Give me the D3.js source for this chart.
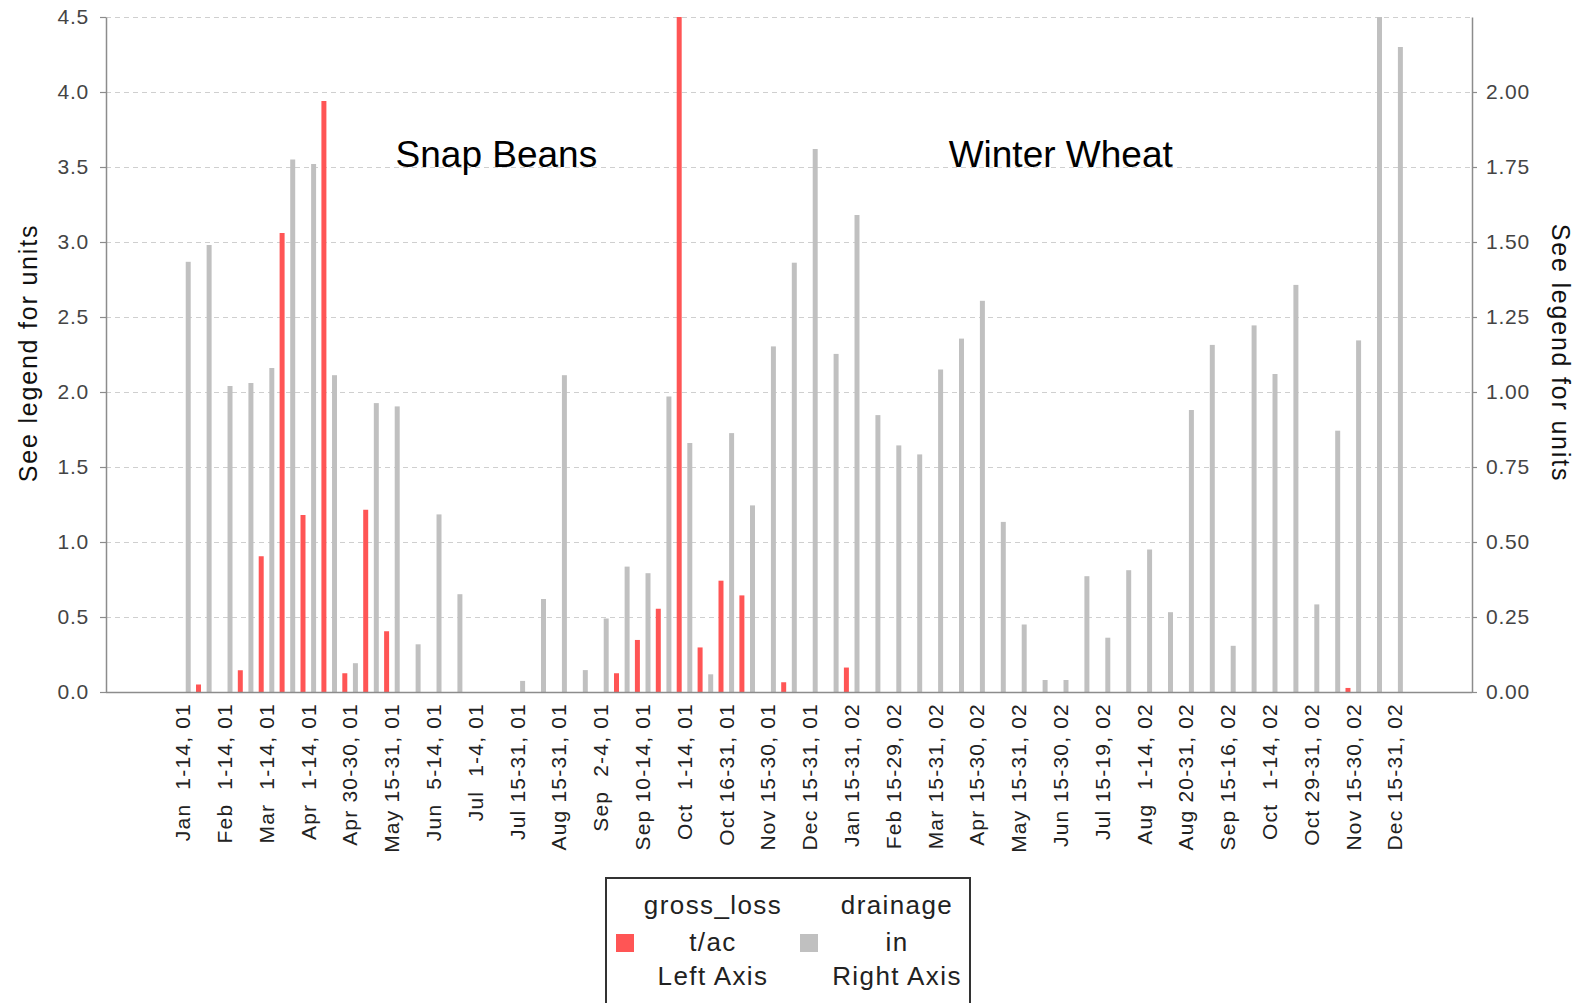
<!DOCTYPE html>
<html>
<head>
<meta charset="utf-8">
<script src="https://cdn.jsdelivr.net/npm/d3@7"></script>
<style>
  body { margin: 0; background: #fff; }
  text { font-family: "Liberation Sans", Arial, sans-serif; }
</style>
</head>
<body>
<div id="chart"></div>
<script>
// Half-month periods (labels padded like the source, "Jan  1-14, 01")
var periods = [
  "Jan  1-14, 01", "Jan 15-31, 01", "Feb  1-14, 01", "Feb 15-28, 01", "Mar  1-14, 01",
  "Mar 15-31, 01", "Apr  1-14, 01", "Apr 15-29, 01", "Apr 30-30, 01", "May  1-14, 01",
  "May 15-31, 01", "Jun  1-4, 01", "Jun  5-14, 01", "Jun 15-30, 01", "Jul  1-4, 01",
  "Jul  5-14, 01", "Jul 15-31, 01", "Aug  1-14, 01", "Aug 15-31, 01", "Sep  1-1, 01",
  "Sep  2-4, 01", "Sep  5-9, 01", "Sep 10-14, 01", "Sep 15-30, 01", "Oct  1-14, 01",
  "Oct 15-15, 01", "Oct 16-31, 01", "Nov  1-14, 01", "Nov 15-30, 01", "Dec  1-14, 01",
  "Dec 15-31, 01", "Jan  1-14, 02", "Jan 15-31, 02", "Feb  1-14, 02", "Feb 15-29, 02",
  "Mar  1-14, 02", "Mar 15-31, 02", "Apr  1-14, 02", "Apr 15-30, 02", "May  1-14, 02",
  "May 15-31, 02", "Jun  1-14, 02", "Jun 15-30, 02", "Jul  1-14, 02", "Jul 15-19, 02",
  "Jul 20-31, 02", "Aug  1-14, 02", "Aug 15-19, 02", "Aug 20-31, 02", "Sep  1-14, 02",
  "Sep 15-16, 02", "Sep 17-30, 02", "Oct  1-14, 02", "Oct 15-28, 02", "Oct 29-31, 02",
  "Nov  1-14, 02", "Nov 15-30, 02", "Dec  1-14, 02", "Dec 15-31, 02"
];

// gross_loss, t/ac (left axis)
var grossLoss = [
  0, 0.05, 0, 0.145, 0.905, 3.06, 1.18, 3.94, 0.125, 1.215,
  0.405, 0, 0, 0, 0, 0, 0, 0, 0, 0,
  0, 0.125, 0.347, 0.555, 4.5, 0.297, 0.742, 0.644, 0, 0.065,
  0, 0, 0.163, 0, 0, 0, 0, 0, 0, 0,
  0, 0, 0, 0, 0, 0, 0, 0, 0, 0,
  0, 0, 0, 0, 0, 0, 0.027, 0, 0
];

// drainage, in (right axis)
var drainage = [
  1.434, 1.49, 1.02, 1.03, 1.08, 1.775, 1.76, 1.056, 0.096, 0.963,
  0.952, 0.159, 0.592, 0.326, 0, 0, 0.037, 0.31, 1.056, 0.073,
  0.245, 0.418, 0.396, 0.985, 0.83, 0.059, 0.863, 0.622, 1.152, 1.431,
  1.81, 1.127, 1.59, 0.923, 0.822, 0.792, 1.075, 1.178, 1.304, 0.567,
  0.225, 0.04, 0.04, 0.386, 0.181, 0.406, 0.475, 0.266, 0.94, 1.157,
  0.154, 1.222, 1.06, 1.357, 0.292, 0.871, 1.172, 2.25, 2.15
];

var leftTicks = [0, 0.5, 1.0, 1.5, 2.0, 2.5, 3.0, 3.5, 4.0, 4.5];
var rightTicks = [0, 0.25, 0.5, 0.75, 1.0, 1.25, 1.5, 1.75, 2.0];

// crop annotations
var cropNames = ["Snap Beans", "Winter Wheat"];
var cropPeriods = ["Jul  5-14, 01", "Jun 15-30, 02"];
var cropLevels = [3.5, 3.5];

// legend
var seriesNames = ["gross_loss", "drainage"];
var seriesUnits = ["t/ac", "in"];
var seriesAxes = ["Left Axis", "Right Axis"];
var seriesColors = ["#ff5555", "#c0c0c0"];

var svgWidth = 1581;
var svgHeight = 1003;

var plot = { left: 106, right: 1472, top: 17, bottom: 692 };

var svg = d3.select("#chart")
  .append("svg")
  .attr("width", svgWidth)
  .attr("height", svgHeight)
  .style("background", "#fff");

// Scales
var xScale = d3.scaleBand()
  .domain(periods)
  .range([plot.left, plot.right])
  .paddingInner(0)
  .paddingOuter(3.18);

var xSub = d3.scaleBand()
  .domain(seriesNames)
  .range([0, xScale.bandwidth()])
  .paddingInner(0.53)
  .paddingOuter(0.25);

var yLeft = d3.scaleLinear().domain([0, 4.5]).range([plot.bottom, plot.top]);
var yRight = d3.scaleLinear().domain([0, 2.25]).range([plot.bottom, plot.top]);

// Gridlines
svg.append("g")
  .selectAll("line")
  .data(leftTicks.filter(d => d > 0))
  .enter()
  .append("line")
  .attr("x1", plot.left)
  .attr("x2", plot.right)
  .attr("y1", d => yLeft(d) + 0.5)
  .attr("y2", d => yLeft(d) + 0.5)
  .attr("stroke", "#cfcfcf")
  .attr("stroke-width", 1)
  .attr("stroke-dasharray", "5,4");

// Bars
var rows = periods.map(function(p, i) {
  return { period: p, loss: grossLoss[i], drain: drainage[i] };
});

svg.append("g")
  .selectAll("rect")
  .data(rows)
  .enter()
  .append("rect")
  .attr("x", d => xScale(d.period) + xSub("gross_loss"))
  .attr("y", d => yLeft(d.loss))
  .attr("width", xSub.bandwidth())
  .attr("height", d => plot.bottom - yLeft(d.loss))
  .attr("fill", seriesColors[0]);

svg.append("g")
  .selectAll("rect")
  .data(rows)
  .enter()
  .append("rect")
  .attr("x", d => xScale(d.period) + xSub("drainage"))
  .attr("y", d => yRight(d.drain))
  .attr("width", xSub.bandwidth())
  .attr("height", d => plot.bottom - yRight(d.drain))
  .attr("fill", seriesColors[1]);

// Axes
var leftAxis = d3.axisLeft(yLeft)
  .tickValues(leftTicks)
  .tickFormat(d3.format(".1f"))
  .tickSizeInner(6)
  .tickSizeOuter(0)
  .tickPadding(11);

var rightAxis = d3.axisRight(yRight)
  .tickValues(rightTicks)
  .tickFormat(d3.format(".2f"))
  .tickSizeInner(5)
  .tickSizeOuter(0)
  .tickPadding(9);

var bottomAxis = d3.axisBottom(xScale)
  .tickValues(periods.filter((d, i) => i % 2 === 0))
  .tickSize(0)
  .tickSizeOuter(0);

var gl = svg.append("g")
  .attr("transform", `translate(${plot.left}, 0)`)
  .call(leftAxis);

var gr = svg.append("g")
  .attr("transform", `translate(${plot.right}, 0)`)
  .call(rightAxis);

var gb = svg.append("g")
  .attr("transform", `translate(0, ${plot.bottom})`)
  .call(bottomAxis);

[gl, gr, gb].forEach(function(g) {
  g.select(".domain").attr("stroke", "#8c8c8c").attr("stroke-width", 1.5);
  g.selectAll(".tick line").attr("stroke", "#8c8c8c").attr("stroke-width", 1.2);
});

gl.selectAll(".tick text")
  .attr("font-size", "21px")
  .attr("letter-spacing", "0.8px")
  .attr("fill", "#444");

gr.selectAll(".tick text")
  .attr("font-size", "21px")
  .attr("letter-spacing", "0.8px")
  .attr("fill", "#444");

gb.select(".domain")
  .attr("d", `M${plot.left},0.5H${plot.right}`);

gb.selectAll(".tick text")
  .attr("transform", "rotate(-90)")
  .attr("x", -11)
  .attr("y", 0)
  .attr("dy", "0.35em")
  .attr("text-anchor", "end")
  .attr("font-size", "21px")
  .attr("letter-spacing", "1.2px")
  .attr("fill", "#222")
  .style("white-space", "pre");

// Axis titles
svg.append("text")
  .attr("transform", "translate(37, 353) rotate(-90)")
  .attr("text-anchor", "middle")
  .attr("font-size", "25px")
  .attr("letter-spacing", "1.8px")
  .attr("fill", "#111")
  .text("See legend for units");

svg.append("text")
  .attr("transform", "translate(1552, 353) rotate(90)")
  .attr("text-anchor", "middle")
  .attr("font-size", "25px")
  .attr("letter-spacing", "1.8px")
  .attr("fill", "#111")
  .text("See legend for units");

// Crop annotations
svg.append("g")
  .selectAll("text")
  .data(cropNames)
  .enter()
  .append("text")
  .attr("x", (d, i) => xScale(cropPeriods[i]) + xScale.bandwidth() / 2)
  .attr("y", (d, i) => yLeft(cropLevels[i]))
  .attr("text-anchor", "middle")
  .attr("font-size", "37px")
  .attr("fill", "#000")
  .text(d => d);

// Legend
var legend = svg.append("g");

legend.append("rect")
  .attr("x", 606)
  .attr("y", 878)
  .attr("width", 364)
  .attr("height", 150)
  .attr("fill", "#fff")
  .attr("stroke", "#333")
  .attr("stroke-width", 2);

var legendItems = legend.selectAll("g.item")
  .data(seriesNames)
  .enter()
  .append("g")
  .attr("class", "item")
  .attr("transform", (d, i) => `translate(${616 + i * 184}, 0)`);

legendItems.append("rect")
  .attr("x", 0)
  .attr("y", 934)
  .attr("width", 18)
  .attr("height", 18)
  .attr("fill", (d, i) => seriesColors[i]);

legendItems.append("text")
  .attr("x", 97)
  .attr("y", 914)
  .attr("text-anchor", "middle")
  .attr("font-size", "26px")
  .attr("letter-spacing", "1.4px")
  .attr("fill", "#222")
  .text(d => d);

legendItems.append("text")
  .attr("x", 97)
  .attr("y", 951)
  .attr("text-anchor", "middle")
  .attr("font-size", "26px")
  .attr("letter-spacing", "1.4px")
  .attr("fill", "#222")
  .text((d, i) => seriesUnits[i]);

legendItems.append("text")
  .attr("x", 97)
  .attr("y", 985)
  .attr("text-anchor", "middle")
  .attr("font-size", "26px")
  .attr("letter-spacing", "1.4px")
  .attr("fill", "#222")
  .text((d, i) => seriesAxes[i]);
</script>
</body>
</html>
